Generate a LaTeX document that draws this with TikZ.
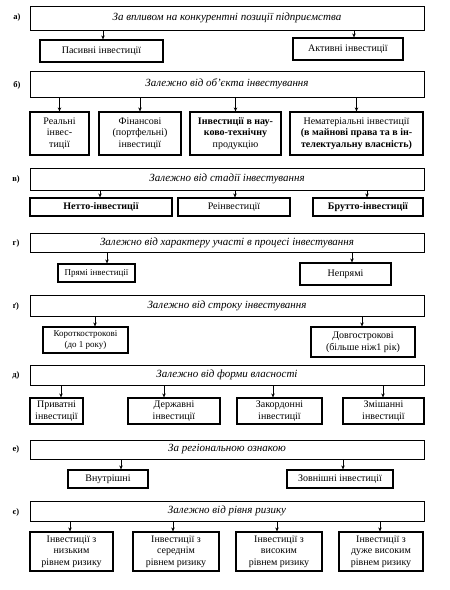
\documentclass[tikz,border=0pt]{standalone}
\usepackage{fontspec}
\setmainfont{Liberation Serif}
\usetikzlibrary{arrows.meta}
\tikzset{
  hdr/.style={draw, line width=0.9pt, inner sep=0pt, font=\fontsize{11}{12}\selectfont\itshape},
  bx/.style={draw, line width=1.2pt, inner sep=0pt, align=center, font=\fontsize{10}{11.5}\selectfont},
  smallbx/.style={bx, font=\fontsize{9}{10.5}\selectfont},
  lbl/.style={font=\fontsize{8.5}{10}\selectfont\bfseries, inner sep=0pt},
  arr/.style={-{Stealth[length=4pt,width=3.5pt]}, line width=0.7pt}
}
\begin{document}
\begin{tikzpicture}[x=1pt,y=-1pt]
\useasboundingbox (0,0) rectangle (450,590);
% а)
\node[lbl] (la) at (17,17) {а)};
\node[hdr, minimum width=394pt, minimum height=24pt] (hA) at (227,18) {За впливом на конкурентні позиції підприємства};
\node[bx, minimum width=123pt, minimum height=22pt] (a1) at (101.5,51) {Пасивні інвестиції};
\node[bx, minimum width=110pt, minimum height=22pt] (a2) at (348,49) {Активні інвестиції};
\draw[arr] (hA.south -| 103,0) -- (a1.north -| 103,0);
\draw[arr] (hA.south -| 354,0) -- (a2.north -| 354,0);
% б)
\node[lbl] (lb) at (17,85) {б)};
\node[hdr, minimum width=394pt, minimum height=26pt] (hB) at (227,84) {Залежно від об’єкта інвестування};
\node[bx, minimum width=59pt, minimum height=43pt] (b1) at (59.5,133.5) {Реальні\\інвес-\\тиції};
\node[bx, minimum width=82pt, minimum height=43pt] (b2) at (140,133.5) {Фінансові\\(портфельні)\\інвестиції};
\node[bx, minimum width=91pt, minimum height=43pt] (b3) at (235.5,133.5) {\textbf{Інвестиції в нау-}\\\textbf{ково-технічну}\\продукцію};
\node[bx, minimum width=133pt, minimum height=43pt] (b4) at (356.5,133.5) {Нематеріальні інвестиції\\\textbf{(в майнові права та в ін-}\\\textbf{телектуальну власність)}};
\draw[arr] (hB.south -| b1.north) -- (b1.north);
\draw[arr] (hB.south -| b2.north) -- (b2.north);
\draw[arr] (hB.south -| b3.north) -- (b3.north);
\draw[arr] (hB.south -| b4.north) -- (b4.north);
% в)
\node[lbl] (lc) at (16,179) {в)};
\node[hdr, minimum width=394pt, minimum height=22pt] (hC) at (227,179) {Залежно від стадії інвестування};
\node[bx, minimum width=142pt, minimum height=18pt] (c1) at (101,207) {\textbf{Нетто-інвестиції}};
\node[bx, minimum width=112pt, minimum height=18pt] (c2) at (234,207) {Реінвестиції};
\node[bx, minimum width=110pt, minimum height=18pt] (c3) at (368,207) {\textbf{Брутто-інвестиції}};
\draw[arr] (hC.south -| 100,0) -- (c1.north -| 100,0);
\draw[arr] (hC.south -| 235,0) -- (c2.north -| 235,0);
\draw[arr] (hC.south -| 367,0) -- (c3.north -| 367,0);
% г)
\node[lbl] (ld) at (16,243) {г)};
\node[hdr, minimum width=394pt, minimum height=19pt] (hD) at (227,242.5) {Залежно від характеру участі в процесі інвестування};
\node[smallbx, minimum width=77pt, minimum height=18pt] (d1) at (96.5,273) {Прямі інвестиції};
\node[bx, minimum width=91pt, minimum height=22pt] (d2) at (345.5,274) {Непрямі};
\draw[arr] (hD.south -| 107,0) -- (d1.north -| 107,0);
\draw[arr] (hD.south -| 352,0) -- (d2.north -| 352,0);
% ґ)
\node[lbl] (le) at (16,306) {ґ)};
\node[hdr, minimum width=394pt, minimum height=21pt] (hE) at (227,305.5) {Залежно від строку інвестування};
\node[smallbx, minimum width=85pt, minimum height=26pt] (e1) at (85.5,340) {Короткострокові\\(до 1 року)};
\node[bx, minimum width=104pt, minimum height=30pt] (e2) at (363,342) {Довгострокові\\(більше ніж1 рік)};
\draw[arr] (hE.south -| 95,0) -- (e1.north -| 95,0);
\draw[arr] (hE.south -| 362,0) -- (e2.north -| 362,0);
% д)
\node[lbl] (lf) at (16,375) {д)};
\node[hdr, minimum width=394pt, minimum height=20pt] (hF) at (227,375) {Залежно від форми власності};
\node[bx, minimum width=53pt, minimum height=26pt] (f1) at (56.5,411) {Приватні\\інвестиції};
\node[bx, minimum width=92pt, minimum height=26pt] (f2) at (174,411) {Державні\\інвестиції};
\node[bx, minimum width=85pt, minimum height=26pt] (f3) at (279.5,411) {Закордонні\\інвестиції};
\node[bx, minimum width=81pt, minimum height=26pt] (f4) at (383.5,411) {Змішанні\\інвестиції};
\draw[arr] (hF.south -| 61,0) -- (f1.north -| 61,0);
\draw[arr] (hF.south -| 164,0) -- (f2.north -| 164,0);
\draw[arr] (hF.south -| 273,0) -- (f3.north -| 273,0);
\draw[arr] (hF.south -| 383,0) -- (f4.north -| 383,0);
% е)
\node[lbl] (lg) at (16,449) {е)};
\node[hdr, minimum width=394pt, minimum height=19pt] (hG) at (227,449.5) {За регіональною ознакою};
\node[bx, minimum width=80pt, minimum height=18pt] (g1) at (108,479) {Внутрішні};
\node[bx, minimum width=106pt, minimum height=18pt] (g2) at (340,479) {Зовнішні інвестиції};
\draw[arr] (hG.south -| 121,0) -- (g1.north -| 121,0);
\draw[arr] (hG.south -| 343,0) -- (g2.north -| 343,0);
% є)
\node[lbl] (lh) at (16,512) {є)};
\node[hdr, minimum width=394pt, minimum height=20pt] (hH) at (227,511) {Залежно від рівня ризику};
\node[bx, minimum width=83pt, minimum height=39pt] (h1) at (71.5,551.5) {Інвестиції з\\низьким\\рівнем ризику};
\node[bx, minimum width=86pt, minimum height=39pt] (h2) at (176,551.5) {Інвестиції з\\середнім\\рівнем ризику};
\node[bx, minimum width=86pt, minimum height=39pt] (h3) at (279,551.5) {Інвестиції з\\високим\\рівнем ризику};
\node[bx, minimum width=84pt, minimum height=39pt] (h4) at (381,551.5) {Інвестиції з\\дуже високим\\рівнем ризику};
\draw[arr] (hH.south -| 70,0) -- (h1.north -| 70,0);
\draw[arr] (hH.south -| 173,0) -- (h2.north -| 173,0);
\draw[arr] (hH.south -| 277,0) -- (h3.north -| 277,0);
\draw[arr] (hH.south -| 380,0) -- (h4.north -| 380,0);
\end{tikzpicture}
\end{document}
